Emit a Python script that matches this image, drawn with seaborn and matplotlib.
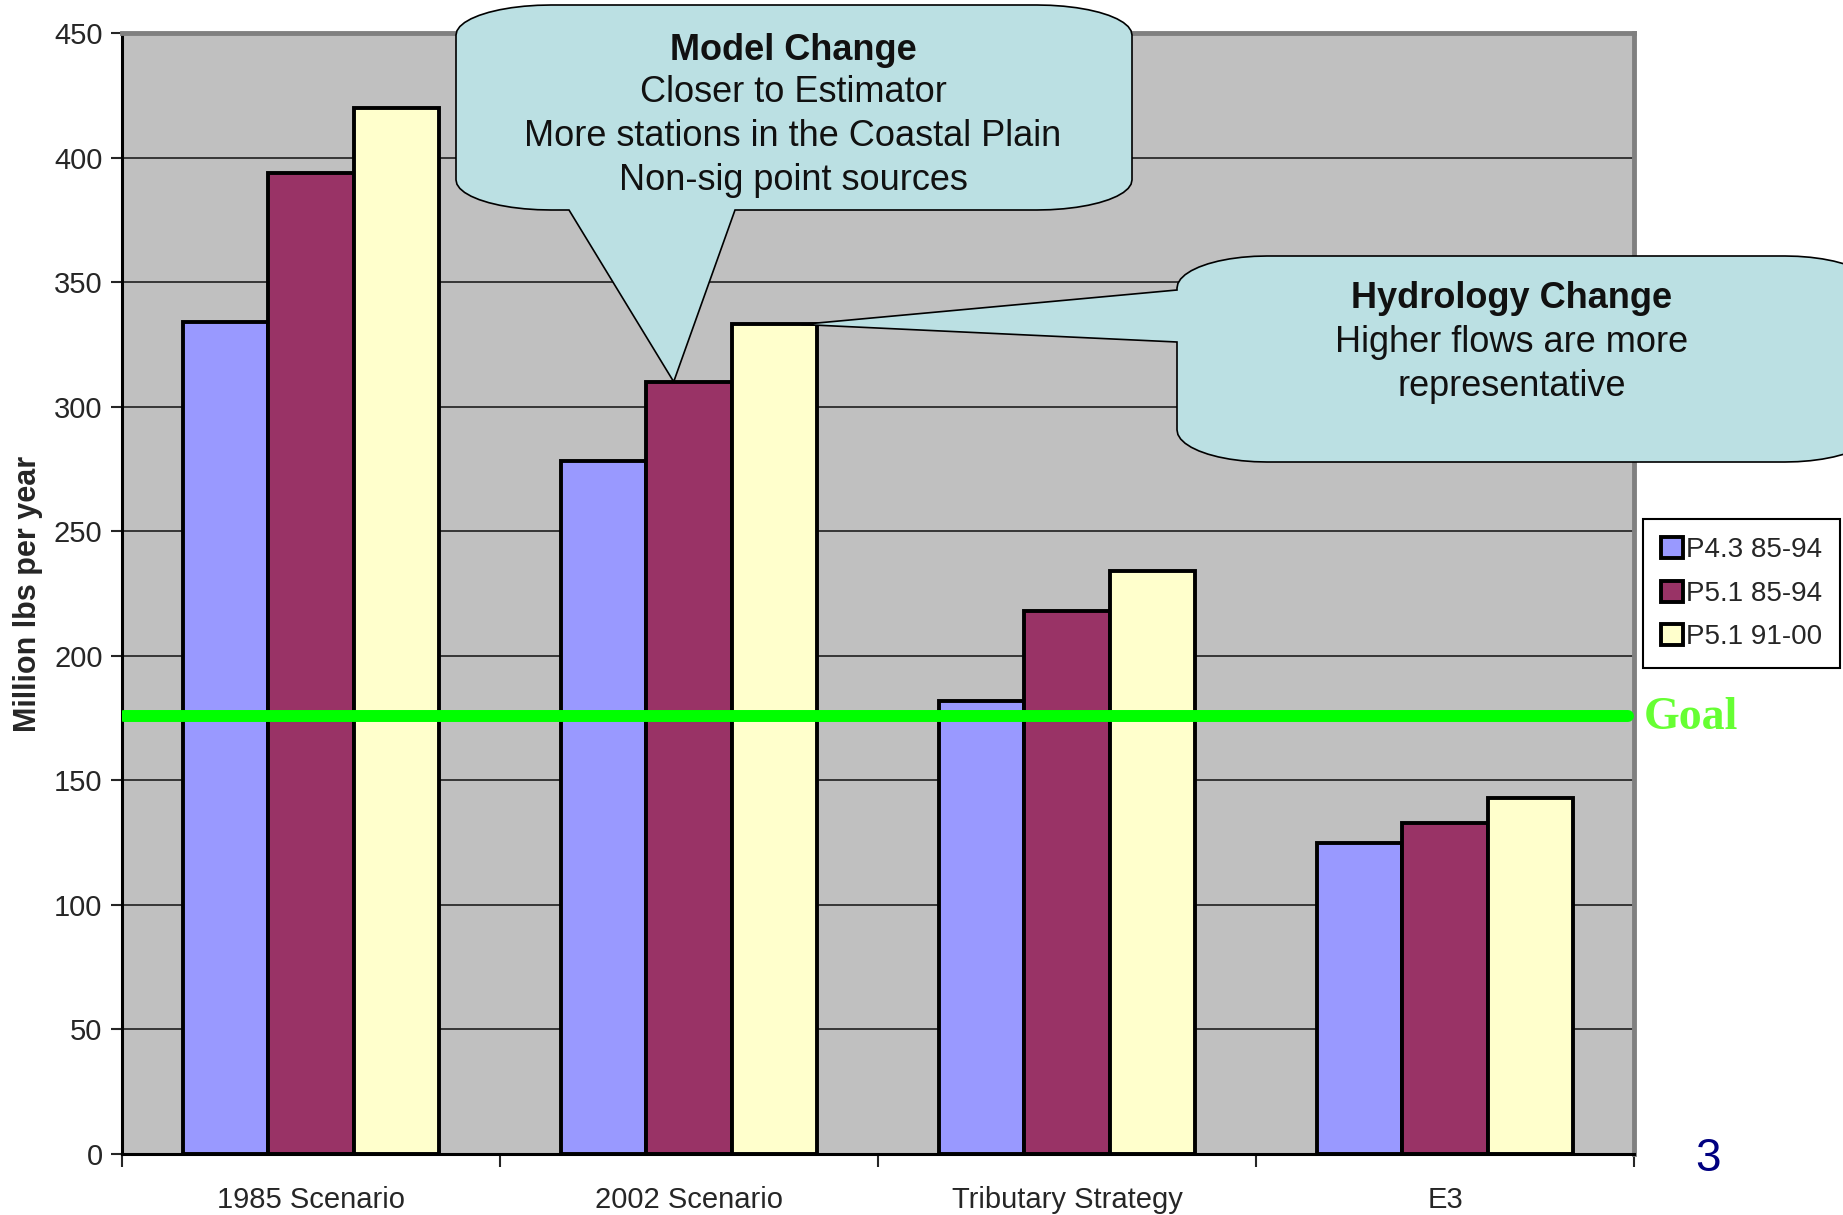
"""Phosphorus load by scenario: Excel-style grouped bars with callouts."""

import matplotlib.pyplot as plt
import numpy as np
import pandas as pd
import seaborn as sns
from matplotlib.patches import Polygon

# Data (million lbs per year)
scenarios = ["1985 Scenario", "2002 Scenario", "Tributary Strategy", "E3"]
runs = ["P4.3 85-94", "P5.1 85-94", "P5.1 91-00"]
p43_85_94 = [334, 278, 182, 125]
p51_85_94 = [394, 310, 218, 133]
p51_91_00 = [420, 333, 234, 143]
goal = 176
y_ticks = list(range(0, 451, 50))

model_lines = ["Closer to Estimator", "More stations in the Coastal Plain", "Non-sig point sources"]
hydro_lines = ["Higher flows are more", "representative"]

colors = {"P4.3 85-94": "#9999FF", "P5.1 85-94": "#993366", "P5.1 91-00": "#FFFFCC"}

W, H = 1843, 1215

sns.set_style("ticks")
plt.rcParams["font.family"] = ["Liberation Sans", "DejaVu Sans"]

# Long table for seaborn
rows = []
for run, vals in zip(runs, [p43_85_94, p51_85_94, p51_91_00]):
    for sc, v in zip(scenarios, vals):
        rows.append({"scenario": sc, "run": run, "load": v})
df = pd.DataFrame(rows)

fig, ax = plt.subplots(figsize=(W / 100, H / 100), dpi=100)
fig.subplots_adjust(left=122 / W, right=1634 / W, bottom=1 - 1154 / H, top=1 - 33 / H)
ax.set_facecolor("#C0C0C0")

sns.barplot(
    data=df, x="scenario", y="load", hue="run", palette=colors,
    width=0.675, saturation=1, edgecolor="black", linewidth=2.8,
    ax=ax, zorder=2,
)

ax.set_xlim(-0.5, 3.5)
ax.set_ylim(0, 450)
ax.set_yticks(y_ticks)
ax.yaxis.grid(True, color="#111111", linewidth=1.1, zorder=0)
ax.set_axisbelow(True)

# goal line
ax.axhline(goal, xmin=0.001, xmax=0.996, color="#00FF00", linewidth=8.6, zorder=3)

# axes styling (Excel-like)
for side in ["left", "bottom"]:
    ax.spines[side].set_color("black")
    ax.spines[side].set_linewidth(2.2)
for side in ["top", "right"]:
    ax.spines[side].set_visible(True)
    ax.spines[side].set_color("#808080")
    ax.spines[side].set_linewidth(3.5)

ax.tick_params(axis="y", labelsize=21, length=8, width=1.5, pad=6, direction="out")
ax.tick_params(axis="x", which="major", labelsize=21, length=0, pad=23)
ax.set_xticks(np.arange(-0.5, 4, 1), minor=True)
ax.tick_params(axis="x", which="minor", length=9, width=1.5, direction="out")
ax.set_xlabel("")
ax.set_ylabel("Million lbs per year", fontsize=22, fontweight="bold")
ax.yaxis.set_label_coords(-0.052, 0.5)

# legend
sns.move_legend(
    ax, loc="upper left", bbox_to_anchor=(1643 / W, 1 - 519 / H),
    bbox_transform=fig.transFigure, title=None, fontsize=20,
    frameon=True, fancybox=False, borderaxespad=0, borderpad=0.65,
    labelspacing=0.62, handlelength=0.8, handleheight=0.8, handletextpad=0.1,
)
leg = ax.get_legend()
leg.get_frame().set_edgecolor("black")
leg.get_frame().set_linewidth(1.5)
leg.get_frame().set_facecolor("white")
leg.get_frame().set_alpha(1)

fig.text(1644 / W, 1 - 718 / H, "Goal", ha="left", va="center",
         family=["Liberation Serif", "DejaVu Serif"], fontweight="bold",
         fontsize=33, color="#66FF33")


def px_from_data(x, y):
    dx, dy = ax.transData.transform((x, y))
    return dx, H - dy


def callout(x0, y0, x1, y1, rx, ry, bottom_tail=None, left_tail=None):
    """Rounded box in image pixels (y down) with a pointer tail."""
    pts = []

    def arc(cx, cy, a0, a1):
        for t in np.linspace(np.radians(a0), np.radians(a1), 12):
            pts.append((cx + rx * np.cos(t), cy + ry * np.sin(t)))

    pts.append((x0 + rx, y0))
    arc(x1 - rx, y0 + ry, -90, 0)
    arc(x1 - rx, y1 - ry, 0, 90)
    if bottom_tail:
        bl, br, tip = bottom_tail
        pts += [(br, y1), tip, (bl, y1)]
    arc(x0 + rx, y1 - ry, 90, 180)
    if left_tail:
        lu, ll, tip = left_tail
        pts += [(x0, ll), tip, (x0, lu)]
    arc(x0 + rx, y0 + ry, 180, 270)
    frac = [(x / W, 1 - y / H) for x, y in pts]
    poly = Polygon(frac, closed=True, transform=fig.transFigure,
                   facecolor="#BBE0E3", edgecolor="black", linewidth=1.2,
                   zorder=10, clip_on=False)
    fig.add_artist(poly)


bar_m = ax.containers[1][1]
bar_y = ax.containers[2][1]
tip1 = px_from_data(bar_m.get_x() + 0.32 * bar_m.get_width(), bar_m.get_height())
tip2 = px_from_data(bar_y.get_x() + 0.82 * bar_y.get_width(), bar_y.get_height())

callout(456, 5, 1132, 210, 95, 30, bottom_tail=(569, 735, tip1))
callout(1177, 256, 1875, 462, 90, 32, left_tail=(290, 342, tip2))

txt = dict(ha="center", va="center", fontsize=26, color="#111111", zorder=11)
fig.text(793 / W, 1 - 50 / H, "Model Change", fontweight="bold", **txt)
for i, line in enumerate(model_lines):
    fig.text(793 / W, 1 - (93 + 44 * i) / H, line, **txt)

fig.text(1512 / W, 1 - 299 / H, "Hydrology Change", fontweight="bold", **txt)
for i, line in enumerate(hydro_lines):
    fig.text(1512 / W, 1 - (343 + 43 * i) / H, line, **txt)

fig.text(1708 / W, 1 - 1159 / H, "3", ha="center", va="center",
         fontsize=33, color="#000080")

fig.savefig("out.png", dpi=100)
plt.close(fig)
